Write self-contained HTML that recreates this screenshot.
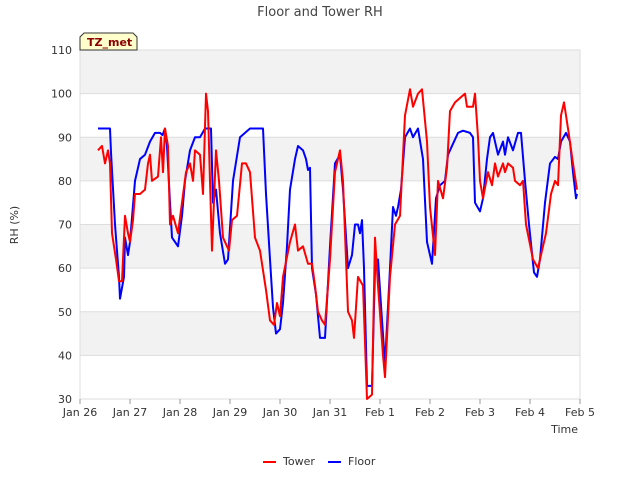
<!DOCTYPE html>
<html><head><meta charset="utf-8"><style>
body{margin:0;background:#fff;font-family:"DejaVu Sans","Liberation Sans",sans-serif;}
svg text{font-family:"DejaVu Sans","Liberation Sans",sans-serif;}
</style></head><body>
<svg id="c" width="640" height="480" xmlns="http://www.w3.org/2000/svg">
<rect width="640" height="480" fill="#fff"/>
<text x="320" y="16" text-anchor="middle" font-size="13" fill="#444">Floor and Tower RH</text>
<g id="bands"></g><g id="grid"></g>
<rect x="80" y="50" width="500" height="349" fill="none" stroke="#ddd"/>
<g id="yt"></g><g id="xt"></g>
<text transform="translate(18,225) rotate(-90)" text-anchor="middle" font-size="11" fill="#333">RH (%)</text>
<text x="578" y="433" text-anchor="end" font-size="11" fill="#333">Time</text>
<g id="series"></g>
<g>
<path d="M80,50 L80,37 L84,33 L133,33 L137,37 L137,50 Z" fill="#ffffcc" stroke="#333" stroke-width="1"/>
<text x="87" y="46" font-size="11" font-weight="bold" fill="#8b0000">TZ_met</text>
</g>
<g>
<g><line x1="263" y1="462" x2="276" y2="462" stroke="red" stroke-width="2"/><text x="283" y="465" font-size="11" fill="#333">Tower</text></g>
<g><line x1="328" y1="462" x2="341" y2="462" stroke="blue" stroke-width="2"/><text x="348" y="465" font-size="11" fill="#333">Floor</text></g>
</g>
</svg>
<script>
const yTicks=[30,40,50,60,70,80,90,100,110];
const xLabels=["Jan 26","Jan 27","Jan 28","Jan 29","Jan 30","Jan 31","Feb 1","Feb 2","Feb 3","Feb 4","Feb 5"];
const floorT=[0.36,0.6,0.62,0.7,0.78,0.8,0.88,0.9,0.96,1.0,1.1,1.2,1.3,1.4,1.5,1.6,1.65,1.7,1.74,1.8,1.84,1.9,1.96,2.04,2.1,2.2,2.3,2.4,2.5,2.62,2.66,2.72,2.8,2.9,2.96,3.06,3.2,3.4,3.66,3.72,3.8,3.86,3.92,4.0,4.06,4.14,4.2,4.3,4.36,4.46,4.52,4.56,4.6,4.64,4.72,4.8,4.9,5.0,5.1,5.2,5.26,5.36,5.44,5.5,5.56,5.6,5.64,5.68,5.74,5.84,5.9,5.96,6.04,6.1,6.2,6.26,6.32,6.36,6.42,6.5,6.6,6.66,6.76,6.86,6.94,7.04,7.12,7.2,7.3,7.36,7.44,7.56,7.66,7.8,7.86,7.9,8.0,8.06,8.14,8.2,8.26,8.36,8.46,8.5,8.56,8.66,8.76,8.82,8.9,8.98,9.08,9.14,9.2,9.3,9.4,9.5,9.56,9.62,9.72,9.8,9.86,9.92,9.94];
const floorV=[92,92,86.5,70,58,53,58,67,63,66,80,85,86,89,91,91,90.5,92,88,75,67,66,65,72,80,87,90,90,92,92,75,78,68,61,62,80,90,92,92,77,62,51,45,46,52,65,78,85,88,87,85,82.5,83,60,54,44,44,65,84,86,78,60,63,70,70,68,71,60,33,33,60,62,48,38,60,74,72,74,78,90,92,90,92,85,66,61,76,79,80,86,88,91,91.5,91,90,75,73,76,85,90,91,86,89,86,90,87,91,91,80,70,59,58,62,75,84,85.5,85,89,91,89,82,76,77];
const towerT=[0.36,0.44,0.5,0.56,0.6,0.64,0.72,0.78,0.84,0.9,0.96,1.0,1.06,1.1,1.2,1.3,1.36,1.4,1.44,1.56,1.62,1.66,1.7,1.76,1.8,1.86,1.96,2.04,2.12,2.2,2.26,2.3,2.4,2.46,2.52,2.56,2.64,2.72,2.78,2.86,2.98,3.04,3.14,3.24,3.32,3.4,3.5,3.6,3.72,3.8,3.88,3.94,4.0,4.06,4.2,4.3,4.36,4.46,4.56,4.64,4.7,4.76,4.84,4.9,5.0,5.1,5.2,5.26,5.36,5.44,5.48,5.56,5.66,5.74,5.84,5.9,5.96,6.06,6.1,6.2,6.3,6.4,6.5,6.6,6.66,6.76,6.84,6.94,7.0,7.1,7.16,7.26,7.34,7.4,7.5,7.6,7.7,7.74,7.86,7.9,7.96,8.0,8.06,8.16,8.24,8.3,8.36,8.46,8.5,8.56,8.66,8.7,8.8,8.86,8.92,9.06,9.16,9.26,9.32,9.42,9.5,9.56,9.62,9.68,9.76,9.86,9.94];
const towerV=[87,88,84,87,84,68,62,57,57,72,68,66,71,77,77,78,84,86,80,81,90,82,92,88,70,72,68,75,82,84,80,87,86,77,100,96,64,87,80,67,64,71,72,84,84,82,67,64,55,48,47,52,49,58,66,70,64,65,61,61,56,50,48,47,62,82,87,80,50,48,44,58,56,30,31,67,56,40,35,58,70,72,95,101,97,100,101,89,74,63,80,76,83,96,98,99,100,97,97,100,90,80,76,82,79,84,81,84,82,84,83,80,79,80,70,62,60,65,68,77,80,79,95,98,92,84,78];
const NS="http://www.w3.org/2000/svg";
const X=d=>80+50*d, Y=v=>399-(v-30)*349/80;
function mk(tag,attrs,parent){const e=document.createElementNS(NS,tag);for(const k in attrs)e.setAttribute(k,attrs[k]);document.getElementById(parent).appendChild(e);return e;}
[[100,110],[80,90],[60,70],[40,50]].forEach(b=>{
 const r=mk('rect',{x:80,y:Y(b[1]),width:500,height:Y(b[0])-Y(b[1]),fill:'#f2f2f2'},'bands');
 
 
});
yTicks.forEach(v=>{
 const l=mk('line',{x1:80,x2:580,y1:Y(v),y2:Y(v),stroke:'#ddd'},'grid');
 
 
 const t=mk('text',{x:72,y:Y(v)+4,'text-anchor':'end','font-size':11,fill:'#333'},'yt');
 t.textContent=v;
 
 
});
xLabels.forEach((s,i)=>{
 const l=mk('line',{x1:X(i),x2:X(i),y1:399,y2:404,stroke:'#999'},'xt');
 
 
 const t=mk('text',{x:X(i),y:416,'text-anchor':'middle','font-size':11,fill:'#333'},'xt');
 t.textContent=s;
 
 
});
function line(T,V,col,name){
 const p=mk('polyline',{points:T.map((t,i)=>X(t)+','+Y(V[i])).join(' '),fill:'none',stroke:col,'stroke-width':2,'stroke-linejoin':'round'},'series');
 
 
}
line(floorT,floorV,'blue','floor-line');
line(towerT,towerV,'red','tower-line');
</script>
</body></html>
